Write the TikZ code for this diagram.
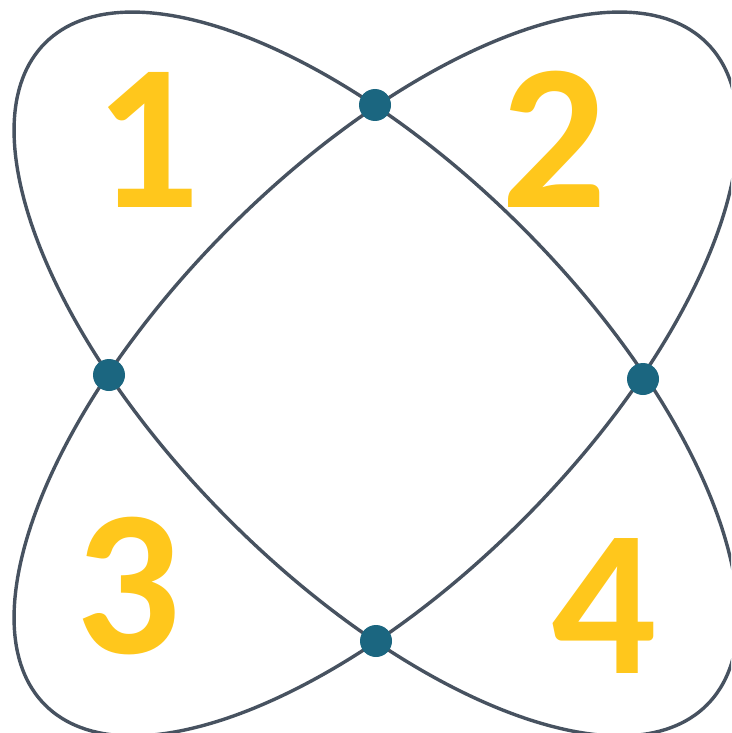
\documentclass[tikz,border=0pt]{standalone}
\usepackage{fontspec}
\setmainfont{Carlito}
\definecolor{lineC}{HTML}{475260}
\definecolor{dotC}{HTML}{1B6680}
\definecolor{numC}{HTML}{FFC71C}
\begin{document}
\begin{tikzpicture}[x=1pt,y=-1pt,
  loop/.style={draw=lineC,line width=3.4pt},
  dotnode/.style={circle,fill=dotC,inner sep=0pt,minimum size=32pt},
  numnode/.style={inner sep=0pt,text=numC,font=\bfseries\fontsize{208}{208}\selectfont}]
\useasboundingbox (0,0) rectangle (731,733);
\clip (0,0) rectangle (731,733);
\coordinate (c) at (376,374);
\draw[loop,rotate around={45:(c)}] (c) ellipse [x radius=468, y radius=207];
\draw[loop,rotate around={-45:(c)}] (c) ellipse [x radius=468, y radius=207];
\node[dotnode] (dt) at (375,105) {};
\node[dotnode] (dl) at (109,375) {};
\node[dotnode] (dr) at (643,379) {};
\node[dotnode] (db) at (376,641) {};
\node[numnode] (n1) at (147,140) {1};
\node[numnode] (n2) at (554,139) {2};
\node[numnode] (n3) at (128,586) {3};
\node[numnode] (n4) at (604,606) {4};
\end{tikzpicture}
\end{document}
